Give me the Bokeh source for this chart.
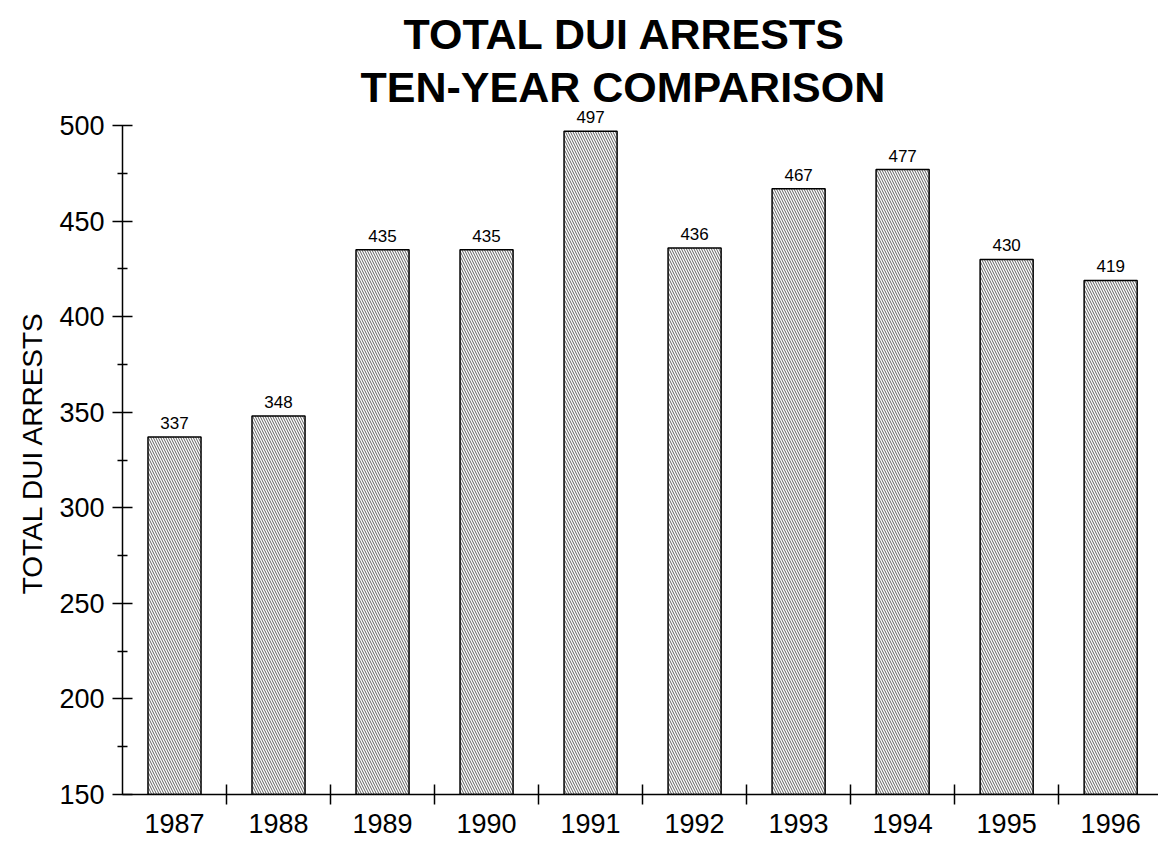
from bokeh.plotting import figure
from bokeh.models import ColumnDataSource, Range1d, FixedTicker, LinearAxis, Title
from bokeh.core.properties import value
from bokeh.embed import file_html
from bokeh.resources import INLINE

years = ["1987", "1988", "1989", "1990", "1991", "1992", "1993", "1994", "1995", "1996"]
arrests = [337, 348, 435, 435, 497, 436, 467, 477, 430, 419]
y_ticks = [150, 200, 250, 300, 350, 400, 450, 500]
y_minor = [175, 225, 275, 325, 375, 425, 475]
title_lines = ["TOTAL DUI ARRESTS", "TEN-YEAR COMPARISON"]

FONT = "Liberation Sans"

xpos = [i + 0.5 for i in range(len(years))]
src = ColumnDataSource(dict(x=xpos, top=arrests, lab=[str(v) for v in arrests]))

p = figure(width=1158, height=847, output_backend="svg", toolbar_location=None, title=None,
           x_range=Range1d(0, 9.96), y_range=Range1d(150, 507.9),
           min_border_left=122, min_border_right=0, min_border_bottom=53, min_border_top=110,
           x_axis_type=None, y_axis_type=None)
p.outline_line_color = None
p.xgrid.visible = False
p.ygrid.visible = False

# title lines: first added sits nearest the plot
t2 = Title(text=title_lines[1], align="left", offset=238, standoff=0,
           text_font=FONT, text_font_size="43px", text_font_style="bold", text_color="black")
t1 = Title(text=title_lines[0], align="left", offset=281, standoff=6,
           text_font=FONT, text_font_size="43px", text_font_style="bold", text_color="black")
p.add_layout(t2, "above")
p.add_layout(t1, "above")

p.vbar(x="x", top="top", bottom=150, width=0.51, source=src,
       fill_color="white", line_color="black", line_width=1.5,
       hatch_pattern="\\", hatch_color="#4d4d4d", hatch_weight=0.9, hatch_scale=5)

p.text(x="x", y="top", text="lab", source=src, text_align="center", text_baseline="bottom",
       y_offset=-8, text_font=value(FONT), text_font_size="17px", text_color="black")

# y axis
yax = LinearAxis(ticker=FixedTicker(ticks=y_ticks, minor_ticks=y_minor), bounds=(150, 500))
yax.axis_label = "TOTAL DUI ARRESTS"
yax.axis_label_text_font = FONT
yax.axis_label_text_font_size = "28px"
yax.axis_label_text_font_style = "normal"
yax.axis_label_text_color = "black"
yax.axis_label_standoff = 8
yax.major_label_text_font = FONT
yax.major_label_text_font_size = "27px"
yax.major_label_text_color = "black"
yax.major_label_standoff = 8
yax.major_tick_in = 10
yax.major_tick_out = 10
yax.minor_tick_in = 5
yax.minor_tick_out = 5
yax.axis_line_width = 1.5
yax.major_tick_line_width = 1.5
yax.minor_tick_line_width = 1.5
p.add_layout(yax, "left")

# x axis: labels at category centers, crossing ticks at category boundaries
xax = LinearAxis(ticker=FixedTicker(ticks=xpos, minor_ticks=[float(i) for i in range(1, len(years))]))
xax.major_label_overrides = {x: y for x, y in zip(xpos, years)}
xax.major_label_text_font = FONT
xax.major_label_text_font_size = "27px"
xax.major_label_text_color = "black"
xax.major_label_standoff = 9
xax.major_tick_in = 0
xax.major_tick_out = 0
xax.minor_tick_in = 10
xax.minor_tick_out = 10
xax.axis_line_width = 1.5
xax.minor_tick_line_width = 1.5
p.add_layout(xax, "below")

open("out.html", "w").write(file_html(p, INLINE))
